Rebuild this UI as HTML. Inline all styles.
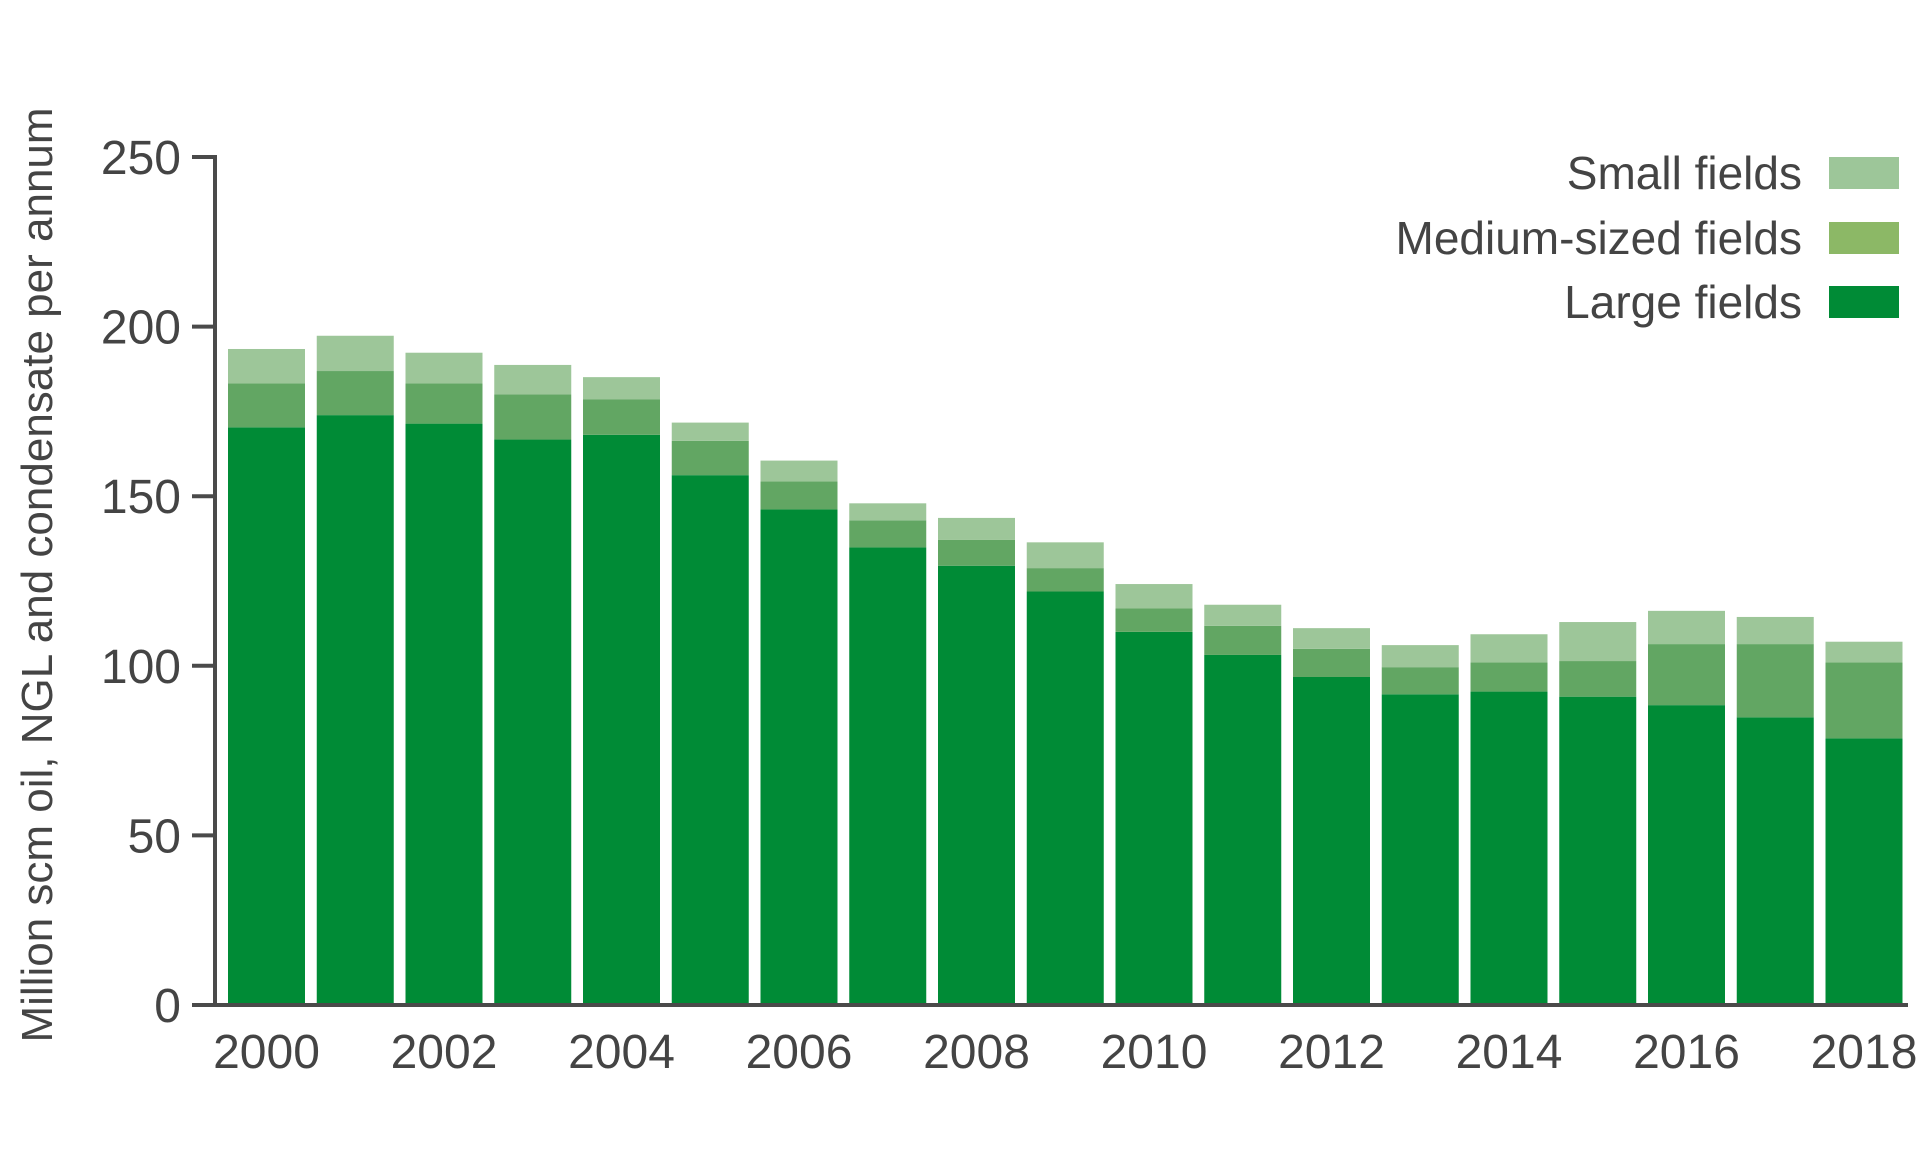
<!DOCTYPE html>
<html><head><meta charset="utf-8"><style>
html,body{margin:0;padding:0;background:#fff;}
svg{display:block;font-family:"Liberation Sans",sans-serif;}
</style></head><body>
<svg id="chart" width="1920" height="1155" viewBox="0 0 1920 1155" xmlns="http://www.w3.org/2000/svg"></svg>
<script>
const years = [2000,2001,2002,2003,2004,2005,2006,2007,2008,2009,2010,2011,2012,2013,2014,2015,2016,2017,2018];
const largeFields = [170.3,173.9,171.4,166.7,168.1,156.2,146.1,134.9,129.5,121.9,110.0,103.2,96.7,91.6,92.4,90.9,88.4,84.8,78.6];
const mediumFields = [13.0,13.0,11.9,13.3,10.5,10.1,8.3,8.0,7.6,6.9,6.9,8.6,8.3,8.0,8.6,10.5,18.0,21.6,22.4];
const smallFields = [10.1,10.4,9.0,8.7,6.5,5.4,6.1,5.0,6.5,7.6,7.2,6.2,6.1,6.5,8.3,11.5,9.8,8.0,6.1];
const yTicks = [0,50,100,150,200,250];
const xTickLabels = ["2000","2002","2004","2006","2008","2010","2012","2014","2016","2018"];
const legendLabels = ["Small fields","Medium-sized fields","Large fields"];

const svg = document.getElementById('chart');
const NS = 'http://www.w3.org/2000/svg';
const x0 = 228, pitch = 88.75, bw = 77, baseY = 1005, topY = 157, yMax = 250;
const yScale = v => baseY - v / yMax * (baseY - topY);
const xScale = i => x0 + i * pitch;
function mk(tag, attrs){const e=document.createElementNS(NS,tag);for(const k in attrs)e.setAttribute(k,attrs[k]);svg.appendChild(e);return e;}

const colors = {large:'#008b36', medium:'#62a663', small:'#9dc699'};
years.forEach((yr,i)=>{
  const l = largeFields[i], m = mediumFields[i], s = smallFields[i];
  const r1 = mk('rect',{x:xScale(i),y:yScale(l),width:bw,height:yScale(0)-yScale(l),fill:colors.large});
  
  
  const r2 = mk('rect',{x:xScale(i),y:yScale(l+m),width:bw,height:yScale(l)-yScale(l+m),fill:colors.medium});
  
  
  const r3 = mk('rect',{x:xScale(i),y:yScale(l+m+s),width:bw,height:yScale(l+m)-yScale(l+m+s),fill:colors.small});
  
  
});

const yAxis = mk('line',{x1:215,y1:topY-2,x2:215,y2:baseY+2,stroke:'#4a4a4a','stroke-width':4});


const xAxis = mk('line',{x1:213,y1:baseY,x2:1908,y2:baseY,stroke:'#4a4a4a','stroke-width':4});



yTicks.forEach(v=>{
  const t = mk('line',{x1:192,y1:yScale(v),x2:217,y2:yScale(v),stroke:'#4a4a4a','stroke-width':4});
  
  
  const lb = mk('text',{x:181,y:yScale(v)+17,'text-anchor':'end','font-size':48,fill:'#444'});
  lb.textContent = v;
  
  
});

xTickLabels.forEach(lbl=>{
  const i = years.indexOf(+lbl);
  const t = mk('text',{x:xScale(i)+bw/2,y:1068,'text-anchor':'middle','font-size':48,fill:'#444'});
  t.textContent = lbl;
  
  
});

const yt = mk('text',{x:0,y:0,'text-anchor':'middle','font-size':44,fill:'#444',transform:'translate(52,575) rotate(-90)'});
yt.textContent = 'Million scm oil, NGL and condensate per annum';



const legColors = ['#9dc699','#8cb866','#008b36'];
const legY = [173,238,302];
legendLabels.forEach((lbl,i)=>{
  const tx = mk('text',{x:1802,y:legY[i]+16,'text-anchor':'end','font-size':46,fill:'#444'});
  tx.textContent = lbl;
  
  
  const sw = mk('rect',{x:1829,y:legY[i]-16,width:70,height:32,fill:legColors[i]});
  
  
});
</script>
</body></html>
